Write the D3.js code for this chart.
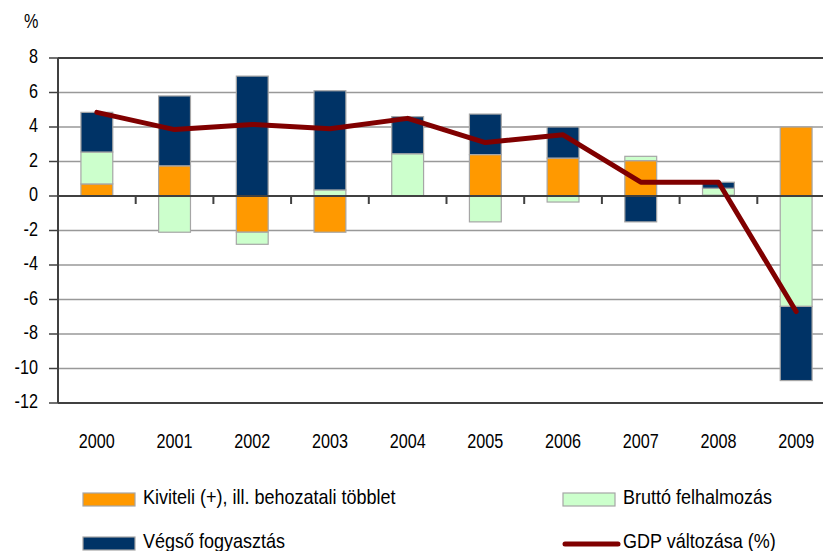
<!DOCTYPE html>
<meta charset="utf-8">
<head>
<script src="https://d3js.org/d3.v7.min.js"></script>
<style>
  body { margin: 0; background: #fff; }
  text { font-family: "Liberation Sans", Arial, sans-serif; fill: #000; }
</style>
</head>
<body>
<svg id="chart" width="823" height="551"></svg>
<script>
// data (percent)
var years = ["2000", "2001", "2002", "2003", "2004", "2005", "2006", "2007", "2008", "2009"];
var kiviteli = [0.7, 1.75, -2.1, -2.1, 0, 2.4, 2.2, 2.05, 0.05, 4.0];
var brutto = [1.85, -2.1, -0.7, 0.35, 2.45, -1.5, -0.35, 0.25, 0.4, -6.4];
var vegso = [2.3, 4.05, 6.95, 5.75, 2.15, 2.35, 1.8, -1.5, 0.35, -4.3];
var gdp = [4.85, 3.85, 4.15, 3.9, 4.5, 3.1, 3.55, 0.8, 0.8, -6.7];
var yTicks = [8, 6, 4, 2, 0, -2, -4, -6, -8, -10, -12];

var keys = ["kiviteli", "brutto", "vegso"];
var colors = { kiviteli: "#ff9900", brutto: "#ccffcc", vegso: "#003366" };
var labels = {
  kiviteli: "Kiviteli (+), ill. behozatali többlet",
  brutto: "Bruttó felhalmozás",
  vegso: "Végső fogyasztás",
  gdp: "GDP változása (%)"
};

var rows = years.map(function (y, i) {
  return { year: y, kiviteli: kiviteli[i], brutto: brutto[i], vegso: vegso[i] };
});

var svg = d3.select("#chart");
var plotLeft = 58, plotRight = 835, plotTop = 58, plotBottom = 403;

var x = d3.scaleBand().domain(years).range([plotLeft, plotRight]).paddingInner(0.59).paddingOuter(0.295);
var y = d3.scaleLinear().domain([-12, 8]).range([plotBottom, plotTop]);

// the original font is a narrow one: draw tall and squeeze sideways
function label(g, tx, ty, txt, anchor, sx) {
  return g.append("text")
    .attr("transform", "translate(" + tx + "," + ty + ") scale(" + sx + ",1)")
    .attr("text-anchor", anchor)
    .style("font-size", "20px")
    .text(txt);
}

// gridlines
svg.append("g")
  .selectAll("line")
  .data(yTicks.filter(function (d) { return d != 8 && d != 0 && d != -12; }))
  .enter().append("line")
    .attr("x1", plotLeft).attr("x2", 823)
    .attr("y1", function (d) { return y(d); })
    .attr("y2", function (d) { return y(d); })
    .attr("stroke", "#999")
    .attr("stroke-width", 1.5);

// top and bottom border
[8, -12].forEach(function (v) {
  svg.append("line")
    .attr("x1", plotLeft).attr("x2", 823)
    .attr("y1", y(v)).attr("y2", y(v))
    .attr("stroke", "#404040").attr("stroke-width", 2);
});

// stacked bars
var series = d3.stack().keys(keys).offset(d3.stackOffsetDiverging)(rows);
svg.append("g")
  .selectAll("g")
  .data(series)
  .enter().append("g")
    .attr("fill", function (s) { return colors[s.key]; })
  .selectAll("rect")
  .data(function (s) { return s.filter(function (d) { return d[1] - d[0] != 0; }); })
  .enter().append("rect")
    .attr("x", function (d) { return x(d.data.year); })
    .attr("width", x.bandwidth())
    .attr("y", function (d) { return y(Math.max(d[0], d[1])); })
    .attr("height", function (d) { return Math.abs(y(d[0]) - y(d[1])); })
    .attr("stroke", "#a6a6a6")
    .attr("stroke-width", 1.2);

// y axis
var yAxis = svg.append("g");
yAxis.append("line")
  .attr("x1", plotLeft).attr("x2", plotLeft)
  .attr("y1", y(8)).attr("y2", y(-12))
  .attr("stroke", "#404040").attr("stroke-width", 2);
yAxis.selectAll(".tick")
  .data(yTicks)
  .enter().append("line")
    .attr("x1", plotLeft - 9).attr("x2", plotLeft)
    .attr("y1", function (d) { return y(d); })
    .attr("y2", function (d) { return y(d); })
    .attr("stroke", "#404040").attr("stroke-width", 1.5);
yTicks.forEach(function (d) {
  label(yAxis, 38, y(d) + 5, d, "end", 0.81);
});

label(svg, 24, 28, "%", "start", 0.81);

// zero line with category ticks
svg.append("line")
  .attr("x1", plotLeft).attr("x2", 823)
  .attr("y1", y(0)).attr("y2", y(0))
  .attr("stroke", "#404040").attr("stroke-width", 2);
svg.append("g")
  .selectAll("line")
  .data(years.slice(1))
  .enter().append("line")
    .attr("x1", function (d) { return x(d) - x.step() * x.paddingInner() / 2; })
    .attr("x2", function (d) { return x(d) - x.step() * x.paddingInner() / 2; })
    .attr("y1", y(0)).attr("y2", y(0) + 8)
    .attr("stroke", "#404040").attr("stroke-width", 2);

// year labels
var xLabels = svg.append("g");
years.forEach(function (d) {
  label(xLabels, x(d) + x.bandwidth() / 2, 448, d, "middle", 0.81);
});

// GDP line
var line = d3.line()
  .x(function (d, i) { return x(years[i]) + x.bandwidth() / 2; })
  .y(function (d) { return y(d); });
svg.append("path")
  .datum(gdp)
  .attr("d", line)
  .attr("fill", "none")
  .attr("stroke", "#800000")
  .attr("stroke-width", 5)
  .attr("stroke-linejoin", "round")
  .attr("stroke-linecap", "round");

// legend
var legend = svg.append("g");
var items = [
  { key: "kiviteli", x: 83, y: 504 },
  { key: "brutto", x: 563, y: 504 },
  { key: "vegso", x: 83, y: 548 },
  { key: "gdp", x: 563, y: 548 }
];
items.forEach(function (it) {
  if (it.key == "gdp") {
    legend.append("line")
      .attr("x1", it.x + 2).attr("x2", it.x + 55)
      .attr("y1", it.y - 4).attr("y2", it.y - 4)
      .attr("stroke", "#800000").attr("stroke-width", 5)
      .attr("stroke-linecap", "round");
  } else {
    legend.append("rect")
      .attr("x", it.x).attr("y", it.y - 11)
      .attr("width", 52).attr("height", 13)
      .attr("fill", colors[it.key])
      .attr("stroke", "#a6a6a6").attr("stroke-width", 1.2);
  }
  label(legend, it.x + 60, it.y, labels[it.key], "start", 0.9);
});
</script>
</body>
